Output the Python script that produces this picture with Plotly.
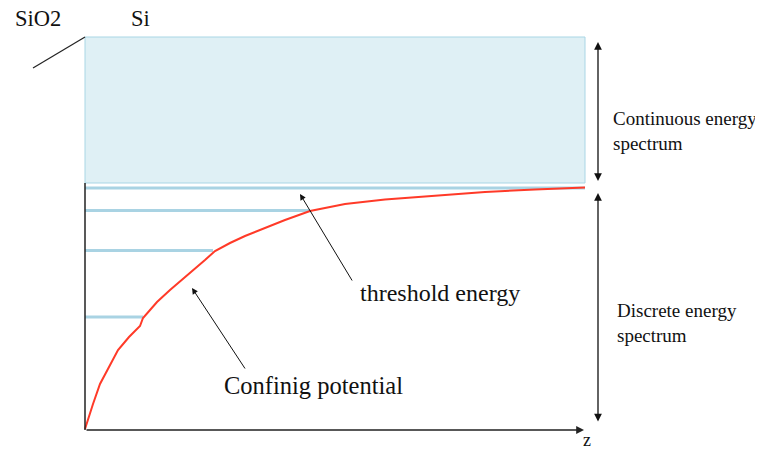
import plotly.graph_objects as go

# Coordinates: z (horizontal, px-like units from origin), E (energy, upward)
z_curve = [0, 4, 8, 15, 24, 33, 44, 55, 58, 63, 72, 85, 97, 110, 120, 130, 145, 160, 175, 200, 225, 260, 300, 345, 400, 450, 500]
E_curve = [1, 14, 26, 46, 63, 80, 93, 104, 112, 118, 128, 140, 150, 161, 170, 179, 187, 194, 200, 210, 219, 226, 230.5, 234, 238, 240.5, 242.5]

level_E = [242, 219.5, 179.5, 113]
level_zend = [500, 225, 128, 58]

band_z = [0, 500]
band_E = [247, 393]

FONT = "'Liberation Serif', 'Times New Roman', 'DejaVu Serif', serif"
fig = go.Figure()

# continuous band
fig.add_shape(type="rect", xref="x", yref="y", x0=band_z[0], x1=band_z[1], y0=band_E[0], y1=band_E[1],
              fillcolor="#dff0f5", line=dict(color="#a9d6e5", width=1), layer="below")

# energy levels
for e, ze in zip(level_E, level_zend):
    fig.add_trace(go.Scatter(x=[0, ze], y=[e, e], mode="lines",
                             line=dict(color="#a9d3e3", width=3), hoverinfo="skip", showlegend=False))

# confining potential
fig.add_trace(go.Scatter(x=z_curve, y=E_curve, mode="lines",
                         line=dict(color="#ff3a28", width=2),
                         hoverinfo="skip", showlegend=False))

# vertical axis
fig.add_shape(type="line", xref="x", yref="y", x0=0, x1=0, y0=0, y1=band_E[0], line=dict(color="#222", width=1.5))
# SiO2 interface line
fig.add_shape(type="line", xref="x", yref="y", x0=-52, x1=0, y0=362, y1=band_E[1], line=dict(color="#222", width=1.2))

# z axis arrow
fig.add_annotation(x=499, y=0, ax=0, ay=0, xref="x", yref="y", axref="x", ayref="y", text="",
                   showarrow=True, arrowhead=2, arrowsize=1.2, arrowwidth=1.3, arrowcolor="#222")

# right double arrows
for y0, y1 in [(247.5, 388), (7, 237)]:
    fig.add_annotation(x=513, y=y1, ax=513, ay=y0, xref="x", yref="y", axref="x", ayref="y", text="",
                       showarrow=True, arrowhead=2, startarrowhead=2, arrowside="end+start",
                       arrowsize=1.2, arrowwidth=1.3, arrowcolor="#111")

# pointer arrows
fig.add_annotation(x=215, y=236, ax=268, ay=148, xref="x", yref="y", axref="x", ayref="y", text="",
                   showarrow=True, arrowhead=2, arrowsize=1.2, arrowwidth=1, arrowcolor="#111")
fig.add_annotation(x=107, y=142, ax=161, ay=60, xref="x", yref="y", axref="x", ayref="y", text="",
                   showarrow=True, arrowhead=2, arrowsize=1.2, arrowwidth=1, arrowcolor="#111")

def label(x, y, text, size, xanchor="center", align="center"):
    fig.add_annotation(x=x, y=y, xref="x", yref="y", text=text, showarrow=False,
                       font=dict(family=FONT, size=size, color="#111"), xanchor=xanchor, yanchor="middle", align=align)

label(-47, 411.5, "SiO2", 22.5)
label(55, 411.5, "Si", 22.5)
label(355, 137, "threshold energy", 24)
label(228, 45, "Confinig potential", 24.5)
label(526, 299, "Continuous energy<br>spectrum", 19, xanchor="left", align="left")
label(530, 107, "Discrete energy<br>spectrum", 19, xanchor="left", align="left")
label(502, -10, "z", 18)

# figure sits at an 8px page margin: shift ranges so 1 unit = 1 px and origin lands at (85, 430)
fig.update_layout(width=763, height=444, margin=dict(l=0, r=0, t=0, b=0),
                  paper_bgcolor="white", plot_bgcolor="white", showlegend=False)
fig.update_xaxes(range=[-77, 686], visible=False, fixedrange=True)
fig.update_yaxes(range=[-22, 422], visible=False, fixedrange=True)

fig.write_html("out.html")
